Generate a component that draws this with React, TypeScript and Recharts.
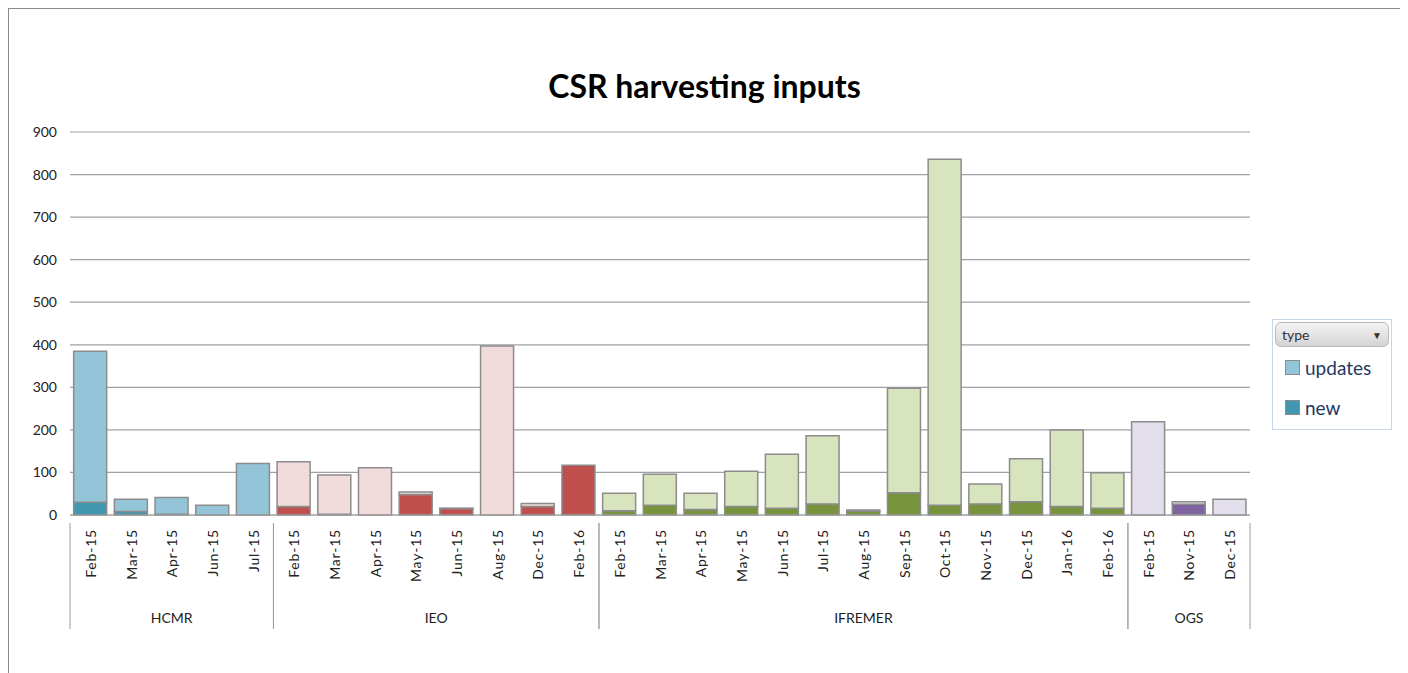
import React from 'react';
import { BarChart, Bar, XAxis, YAxis, CartesianGrid, Cell } from 'recharts';

// Groups (institutes) and their months
const GROUPS = ['HCMR', 'IEO', 'IFREMER', 'OGS'];

const MONTHS: string[][] = [
  ['Feb-15', 'Mar-15', 'Apr-15', 'Jun-15', 'Jul-15'],
  ['Feb-15', 'Mar-15', 'Apr-15', 'May-15', 'Jun-15', 'Aug-15', 'Dec-15', 'Feb-16'],
  ['Feb-15', 'Mar-15', 'Apr-15', 'May-15', 'Jun-15', 'Jul-15', 'Aug-15', 'Sep-15', 'Oct-15', 'Nov-15', 'Dec-15', 'Jan-16', 'Feb-16'],
  ['Feb-15', 'Nov-15', 'Dec-15'],
];

const NEW_VALUES: number[][] = [
  [30, 8, 2, 0, 0],
  [20, 2, 0, 48, 15, 0, 20, 117],
  [10, 23, 13, 20, 16, 26, 9, 52, 23, 26, 31, 20, 16],
  [0, 25, 0],
];

const UPDATE_VALUES: number[][] = [
  [355, 29, 39, 23, 121],
  [105, 92, 111, 6, 1, 397, 7, 0],
  [41, 73, 38, 83, 127, 160, 3, 246, 813, 47, 101, 180, 83],
  [219, 6, 37],
];

const Y_TICKS = [0, 100, 200, 300, 400, 500, 600, 700, 800, 900];

// colours per group: [updates, new]
const GROUP_COLORS: Record<string, { updates: string; new: string }> = {
  HCMR: { updates: '#93c4d7', new: '#4297b0' },
  IEO: { updates: '#f2dcdb', new: '#c0504d' },
  IFREMER: { updates: '#d7e4bd', new: '#77933c' },
  OGS: { updates: '#e4dfec', new: '#8064a2' },
};

const rows = GROUPS.flatMap((g, gi) =>
  MONTHS[gi].map((m, mi) => ({
    group: g,
    month: m,
    new: NEW_VALUES[gi][mi],
    updates: UPDATE_VALUES[gi][mi],
    first: mi === 0,
    last: mi === MONTHS[gi].length - 1,
    count: MONTHS[gi].length,
  }))
);

const CHART_W = 1391;
const CHART_H = 662;
const MARGIN = { top: 123, right: 150, left: 11, bottom: 26 };
const YAXIS_W = 50;
const XAXIS_H = 130;
const STEP = (CHART_W - MARGIN.left - MARGIN.right - YAXIS_W) / rows.length;
const FONT = 'Lato, "Noto Sans", sans-serif';
const LINE = '#a0a0a0';

const MonthTick = (props: any) => {
  const { x, y, payload, index } = props;
  const i = payload?.index ?? index;
  const row = rows[i];
  if (!row) return null;
  return (
    <g>
      <text
        x={0}
        y={0}
        transform={`translate(${x},${y + 6}) rotate(-90)`}
        textAnchor="end"
        dominantBaseline="central"
        fontSize={14}
        fontFamily={FONT}
        fill="#222"
        letterSpacing={0.8}
      >
        {row.month}
      </text>
      {row.first && (
        <line x1={x - STEP / 2} x2={x - STEP / 2} y1={y} y2={y + 106} stroke={LINE} />
      )}
      {row.last && (
        <line x1={x + STEP / 2} x2={x + STEP / 2} y1={y} y2={y + 106} stroke={LINE} />
      )}
      {row.first && (
        <text
          x={x + ((row.count - 1) * STEP) / 2}
          y={y + 100}
          textAnchor="middle"
          fontSize={14}
          fontFamily={FONT}
          fill="#222"
        >
          {row.group}
        </text>
      )}
    </g>
  );
};

const LegendBox = () => {
  const c = GROUP_COLORS.HCMR;
  const item = (label: string, color: string) => (
    <div style={{ display: 'flex', alignItems: 'center', height: 40, paddingLeft: 10 }}>
      <span
        style={{
          width: 13,
          height: 13,
          background: color,
          border: '1px solid #8c8c8c',
          marginRight: 5,
        }}
      />
      <span style={{ fontSize: 19, color: '#1f3864', fontFamily: FONT }}>{label}</span>
    </div>
  );
  return (
    <div
      style={{
        position: 'absolute',
        left: 1263,
        top: 310,
        width: 120,
        height: 111,
        border: '1px solid #c6d6ec',
        background: '#fff',
        boxSizing: 'border-box',
        padding: 2,
      }}
    >
      <div
        style={{
          height: 23,
          borderRadius: 6,
          border: '1px solid #b8b8b8',
          background: 'linear-gradient(#f4f4f4, #d4d4d4)',
          display: 'flex',
          alignItems: 'center',
          justifyContent: 'space-between',
          padding: '0 6px',
          fontSize: 14,
          fontFamily: FONT,
          color: '#333',
        }}
      >
        <span>type</span>
        <span style={{ fontSize: 10 }}>▼</span>
      </div>
      {item('updates', c.updates)}
      {item('new', c.new)}
    </div>
  );
};

export default function App() {
  return (
    <div
      style={{
        position: 'relative',
        width: CHART_W,
        height: 670,
        border: '1px solid #8a8a8a',
        background: '#fff',
        boxSizing: 'content-box',
        fontFamily: FONT,
      }}
    >
      <div
        style={{
          position: 'absolute',
          top: 57,
          left: 0,
          width: '100%',
          textAlign: 'center',
          fontSize: 32,
          fontWeight: 700,
          color: '#000',
          fontFamily: FONT,
          zIndex: 1,
        }}
      >
        CSR harvesting inputs
      </div>
      <BarChart width={CHART_W} height={CHART_H} data={rows} margin={MARGIN} barCategoryGap="9%">
        <CartesianGrid vertical={false} stroke={LINE} strokeWidth={1.2} />
        <XAxis
          dataKey="month"
          interval={0}
          height={XAXIS_H}
          tickLine={false}
          axisLine={{ stroke: LINE }}
          tick={<MonthTick />}
        />
        <YAxis
          width={YAXIS_W}
          domain={[0, 900]}
          ticks={Y_TICKS}
          axisLine={false}
          tickLine={false}
          tickMargin={7}
          tick={{ fontSize: 14, fill: '#222', fontFamily: FONT }}
        />
        <Bar dataKey="new" stackId="a" stroke="#8c8c8c" strokeWidth={1.5} isAnimationActive={false}>
          {rows.map((r, i) => (
            <Cell key={`n-${i}`} fill={GROUP_COLORS[r.group].new} />
          ))}
        </Bar>
        <Bar dataKey="updates" stackId="a" stroke="#8c8c8c" strokeWidth={1.5} isAnimationActive={false}>
          {rows.map((r, i) => (
            <Cell key={`u-${i}`} fill={GROUP_COLORS[r.group].updates} />
          ))}
        </Bar>
      </BarChart>
      <LegendBox />
    </div>
  );
}
